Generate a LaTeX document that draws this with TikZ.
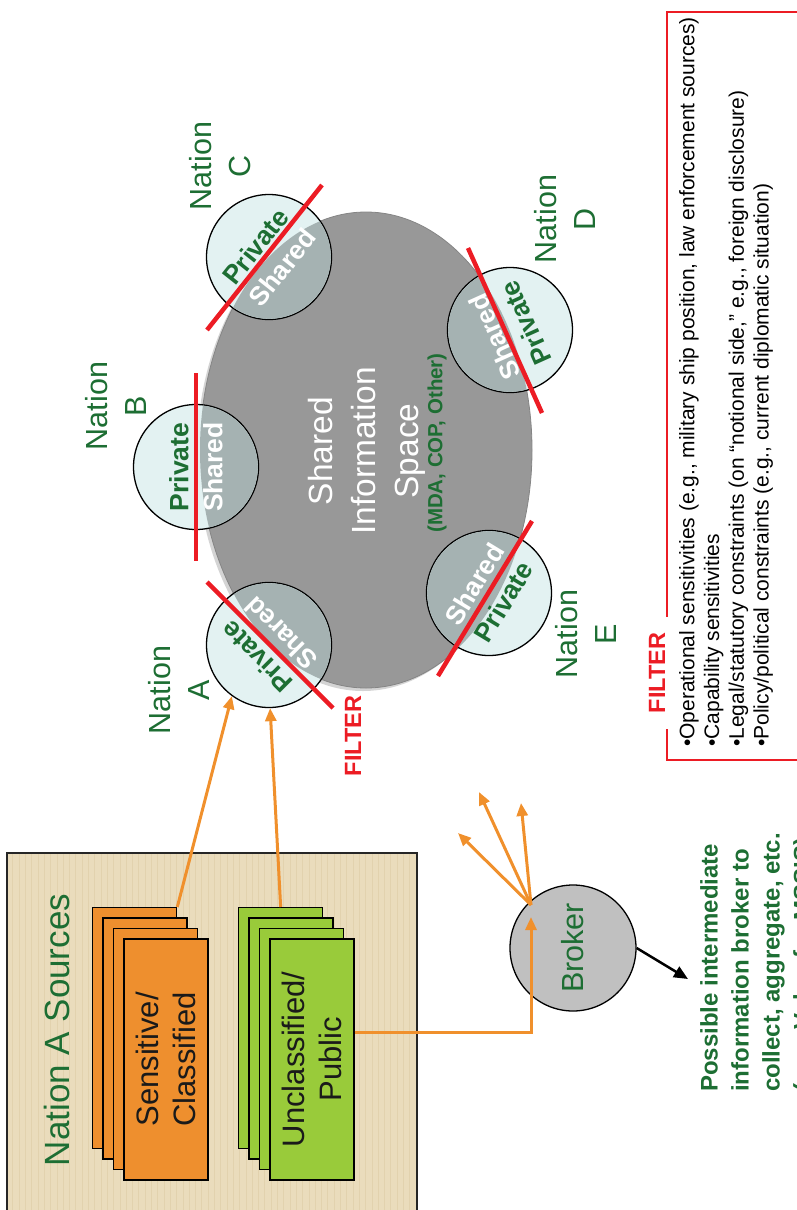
\documentclass[tikz,border=0pt]{standalone}
\usepackage{fontspec}
\setmainfont{Liberation Sans}
\usetikzlibrary{arrows.meta,calc}

\definecolor{srcbeige}{HTML}{EADCBC}
\definecolor{srcgrid}{HTML}{E2D2AE}
\definecolor{cardorange}{HTML}{EE8F2E}
\definecolor{cardgreen}{HTML}{99CB3A}
\definecolor{natgreen}{HTML}{1D6E33}
\definecolor{filtred}{HTML}{EC1C24}
\definecolor{flow}{HTML}{F0902C}
\definecolor{spacegray}{HTML}{989898}
\definecolor{spaceedge}{HTML}{858585}
\definecolor{spacerim}{HTML}{D4D4D4}
\definecolor{privfill}{HTML}{E3F2F2}
\definecolor{sharefill}{HTML}{A5B2B2}
\definecolor{brokergray}{HTML}{C0C0C0}
\definecolor{inktext}{HTML}{1A1A1A}

\begin{document}
\begin{tikzpicture}[x=1pt,y=-1pt,
  card/.style={draw=black, line width=1.3pt, minimum width=84pt, minimum height=241pt,
               inner sep=0pt, anchor=north west},
  cardtext/.style={rotate=90, align=center, text=inktext, font=\fontsize{31}{37}\selectfont},
  nation/.style={circle, draw=black, line width=1.3pt, minimum size=125pt, inner sep=0pt, fill=privfill},
  natlabel/.style={rotate=90, align=center, text=natgreen, font=\fontsize{30.5}{39}\selectfont},
  privtext/.style={text=natgreen, font=\bfseries\fontsize{26.5}{30}\selectfont, inner sep=0pt},
  sharetext/.style={text=white, font=\bfseries\fontsize{26.5}{30}\selectfont, inner sep=0pt},
  cutline/.style={draw=filtred, line width=4.5pt},
  flowline/.style={draw=flow, line width=3pt},
  flowarrow/.style={flowline, -{Triangle[length=13pt,width=11pt]}},
  filtertag/.style={rotate=90, text=filtred, font=\bfseries\fontsize{23.5}{28}\selectfont}
]
\useasboundingbox (0,0) rectangle (797,1210);
\clip (0,0) rectangle (797,1210);

% ---------- Nation A sources panel ----------
\fill[srcbeige] (7,853) rectangle (417,1214);
\begin{scope}
  \clip (7,853) rectangle (417,1214);
  \draw[srcgrid, line width=0.4pt, step=6.3] (7,853) grid (417,1214);
\end{scope}
\draw[black!85, line width=1.3pt] (7,1214) -- (7,853) -- (417,853) -- (417,1214);
\node[rotate=90, text=natgreen, font=\fontsize{35}{42}\selectfont] (srcTitle) at (57,1030) {Nation A Sources};

\foreach \i in {0,...,3} {
  \node[card, fill=cardorange] (o\i) at ({92+10.4*\i},{907+10.4*\i}) {};
  \node[card, fill=cardgreen]  (g\i) at ({238+10.4*\i},{907+10.4*\i}) {};
}
\node[cardtext] (sensText)  at (o3.center) {Sensitive/\\Classified};
\node[cardtext] (unclText)  at (g3.center) {Unclassified/\\Public};

% ---------- shared information space ----------
\coordinate (sisC) at (366,450);
\fill[spacerim]  ($(sisC)+(-3,3)$) ellipse [x radius=166, y radius=238];
\fill[spacegray, draw=spaceedge, line width=0.8pt] (sisC) ellipse [x radius=166, y radius=238];

\node[nation] (cA) at (269,645) {};
\node[nation] (cB) at (196,467) {};
\node[nation] (cC) at (269,257) {};
\node[nation] (cD) at (510,330) {};
\node[nation] (cE) at (489,593) {};

% the share of each nation that lies inside the common space
\begin{scope}
  \clip (sisC) ellipse [x radius=166, y radius=238];
  \foreach \n in {cA,cB,cC,cD,cE} \fill[sharefill] (\n) circle (61.8);
\end{scope}

\node[rotate=90, align=center, text=white, font=\fontsize{33.5}{43}\selectfont] (sisTitle) at (367,451) {Shared\\Information\\Space};
\node[rotate=90, text=natgreen, font=\bfseries\fontsize{20.5}{24}\selectfont] (sisSub) at (437,443) {(MDA, COP, Other)};

% filter lines across each nation
\draw[cutline] (207,582) -- (333,708);
\draw[cutline] (196,373) -- (196,561);
\draw[cutline] (207,330) -- (322,185);
\draw[cutline] (468,248) -- (542,413);
\draw[cutline] (438,676) -- (532,521);

\node[privtext,  rotate=135]   (pA) at (257,657) {Private};
\node[sharetext, rotate=135]   (sA) at (281,633) {Shared};
\node[privtext,  rotate=90]    (pB) at (179,467) {Private};
\node[sharetext, rotate=90]    (sB) at (213,467) {Shared};
\node[privtext,  rotate=51.6]  (pC) at (255.7,246.4) {Private};
\node[sharetext, rotate=51.6]  (sC) at (282.3,267.6) {Shared};
\node[privtext,  rotate=114.2] (pD) at (525.5,323) {Private};
\node[sharetext, rotate=114.2] (sD) at (494.5,337) {Shared};
\node[privtext,  rotate=58.8]  (pE) at (503.5,601.8) {Private};
\node[sharetext, rotate=58.8]  (sE) at (474.5,584.2) {Shared};

\node[natlabel] (labA) at (179,690) {Nation\\A};
\node[natlabel] (labB) at (116,406) {Nation\\B};
\node[natlabel] (labC) at (220,166) {Nation\\C};
\node[natlabel] (labD) at (565,219) {Nation\\D};
\node[natlabel] (labE) at (586,634) {Nation\\E};

\node[filtertag] (filterA) at (353,736) {FILTER};

% ---------- flows from the sources ----------
\draw[flowarrow] (o0.north east) -- (cA.234.7);
\draw[flowarrow] (g0.north) -- (cA.271.8);

% ---------- broker ----------
\node[circle, draw=black, line width=1.3pt, fill=brokergray, minimum size=126pt, inner sep=0pt] (broker) at (573,948) {};
\node[rotate=90, text=natgreen, font=\fontsize{30.5}{36}\selectfont] (brokerText) at (broker.center) {Broker};

\coordinate (uLevel) at (0,1032);
\coordinate (bIn)  at (531,917);
\coordinate (bOut) at (531,905);
\coordinate (f1) at (479,792);
\coordinate (f2) at (521,803);
\coordinate (f3) at (458,833);
\draw[flowarrow] (g3.east |- uLevel) -| (bIn);
\draw[flowarrow] (bOut) -- (f1);
\draw[flowarrow] (bOut) -- (f2);
\draw[flowarrow] (bOut) -- (f3);

\coordinate (noteTip) at (688,979);
\draw[black, line width=2.5pt, -{Triangle[length=14pt,width=12pt]}] (broker.east) -- (noteTip);

\node[rotate=90, anchor=north west, inner sep=0pt, align=left, text=natgreen,
      font=\bfseries\fontsize{24}{31}\selectfont] (brokerNote) at (700,1092)
  {Possible intermediate\\information broker to\\collect, aggregate, etc.\\(e.g., Volpe for MSSIS)};

% ---------- filter criteria ----------
\draw[filtred, line width=1.8pt] (667,12) rectangle (830,760);
\node[filtertag, fill=white, inner xsep=16pt, inner ysep=3pt] (filterHead) at (657,673) {FILTER};
\node[rotate=90, anchor=north west, inner sep=0pt, align=left, text=black,
      font=\fontsize{21}{24.7}\selectfont] (filterList) at (679,747)
  {•Operational sensitivities (e.g., military ship position, law enforcement sources)\\
   •Capability sensitivities\\
   •Legal/statutory constraints (on “notional side,” e.g., foreign disclosure)\\
   •Policy/political constraints (e.g., current diplomatic situation)};
\end{tikzpicture}
\end{document}
